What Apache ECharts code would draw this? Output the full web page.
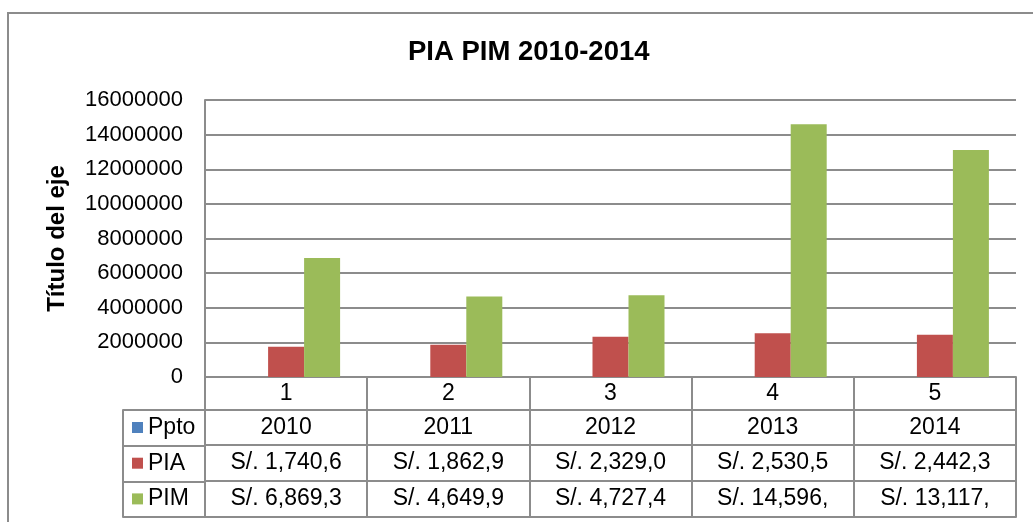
<!DOCTYPE html>
<html>
<head>
<meta charset="utf-8">
<script src="https://cdn.jsdelivr.net/npm/echarts@6/dist/echarts.min.js"></script>
<style>
html,body{margin:0;padding:0;background:#fff;}
#chart{width:1033px;height:522px;}
</style>
</head>
<body>
<div id="chart"></div>
<script>
// ---- data ----
const categories = ['1', '2', '3', '4', '5'];
const seriesNames = ['Ppto', 'PIA', 'PIM'];
const ppto = [2010, 2011, 2012, 2013, 2014];
const pia = [1740600, 1862900, 2329000, 2530500, 2442300];
const pim = [6869300, 4649900, 4727400, 14596000, 13117000];
const yTicks = { min: 0, max: 16000000, interval: 2000000 };
const titleText = 'PIA PIM 2010-2014';
const yAxisTitle = 'Título del eje';

// ---- helpers ----
function addCommas(n) {
  const s = String(Math.round(n));
  return s.replace(/\B(?=(\d{3})+(?!\d))/g, ',');
}
// Excel data table cell shows the currency value truncated to the cell width
function cellText(n) {
  return ('S/. ' + addCommas(n)).slice(0, 11);
}

const FONT = '"Liberation Sans", Arial, sans-serif';
const LINE = '#8c8c8c';
const colors = ['#4F81BD', '#C0504D', '#9BBB59'];

const chart = echarts.init(document.getElementById('chart'), null, { renderer: 'canvas' });

function tableAxis(offset, tickLen, formatter, margin) {
  return {
    type: 'category',
    gridIndex: 0,
    position: 'bottom',
    offset: offset,
    data: categories,
    boundaryGap: true,
    axisLine: { show: true, lineStyle: { color: LINE, width: 2 } },
    axisTick: { show: true, length: tickLen, interval: 0, alignWithLabel: false, lineStyle: { color: LINE, width: 2 } },
    axisLabel: {
      show: true, interval: 0, margin: margin,
      fontFamily: FONT, fontSize: 23, color: '#000', lineHeight: 24,
      formatter: formatter
    },
    splitLine: { show: false }
  };
}

const option = {
  backgroundColor: '#fff',
  animation: false,
  color: colors,
  title: {
    text: titleText,
    left: 408,
    top: 38,
    padding: 0,
    textStyle: { fontFamily: FONT, fontSize: 27.5, fontWeight: 'bold', color: '#000' }
  },
  legend: {
    data: seriesNames,
    orient: 'vertical',
    left: 132,
    top: 415.5,
    padding: 0,
    itemWidth: 11,
    itemHeight: 11,
    itemGap: 11.7,
    icon: 'rect',
    selectedMode: false,
    textStyle: { fontFamily: FONT, fontSize: 23, color: '#000', lineHeight: 24, padding: 0 }
  },
  grid: [
    { left: 205, right: 17, top: 100, bottom: 145, containLabel: false },
    { left: 123, width: 82, top: 410, height: 107, containLabel: false }
  ],
  xAxis: [
    tableAxis(0, 33, function (v) { return v; }, 5),
    tableAxis(33, 35, function (v, i) { return String(ppto[i]); }, 6),
    tableAxis(68, 36, function (v, i) { return cellText(pia[i]); }, 6),
    tableAxis(104, 36, function (v, i) { return cellText(pim[i]); }, 6),
    {
      type: 'category', gridIndex: 0, position: 'bottom', offset: 140, data: categories,
      axisLine: { show: true, lineStyle: { color: LINE, width: 2 } },
      axisTick: { show: false }, axisLabel: { show: false }, splitLine: { show: false }
    },
    {
      type: 'category', gridIndex: 1, data: ['legend'], show: false
    }
  ],
  yAxis: [
    {
      type: 'value',
      gridIndex: 0,
      min: yTicks.min,
      max: yTicks.max,
      interval: yTicks.interval,
      name: yAxisTitle,
      nameLocation: 'middle',
      nameGap: 136,
      nameTextStyle: { fontFamily: FONT, fontSize: 24, fontWeight: 'bold', color: '#000' },
      axisLine: { show: true, lineStyle: { color: LINE, width: 2 } },
      axisTick: { show: false },
      axisLabel: {
        margin: 22, fontFamily: FONT, fontSize: 22, color: '#000',
        formatter: function (v) { return String(v); }
      },
      splitLine: { show: true, lineStyle: { color: LINE, width: 2 } }
    },
    {
      type: 'value',
      gridIndex: 1,
      min: 0, max: 3, interval: 1,
      inverse: true,
      axisLine: { show: true, lineStyle: { color: LINE, width: 2 } },
      axisTick: { show: false },
      axisLabel: { show: false },
      splitLine: { show: true, lineStyle: { color: LINE, width: 2 } }
    }
  ],
  series: [
    { name: 'Ppto', type: 'bar', xAxisIndex: 0, yAxisIndex: 0, data: ppto, barWidth: 36, barGap: '0%' },
    { name: 'PIA', type: 'bar', xAxisIndex: 0, yAxisIndex: 0, data: pia, barWidth: 36, barGap: '0%' },
    { name: 'PIM', type: 'bar', xAxisIndex: 0, yAxisIndex: 0, data: pim, barWidth: 36, barGap: '0%' }
  ],
  graphic: [
    {
      type: 'rect', silent: true, z: -1,
      shape: { x: 8, y: 13, width: 1100, height: 600 },
      style: { fill: 'none', stroke: LINE, lineWidth: 2 }
    }
  ]
};

chart.setOption(option);
</script>
</body>
</html>
